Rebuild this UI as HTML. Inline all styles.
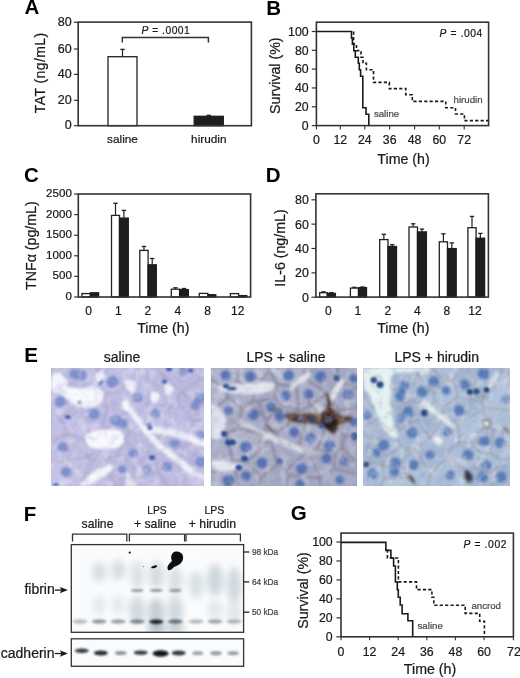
<!DOCTYPE html>
<html><head><meta charset="utf-8"><title>Figure</title>
<style>
html,body{margin:0;padding:0;background:#fff;}
body{width:520px;height:678px;overflow:hidden;}
svg{display:block;font-family:"Liberation Sans", sans-serif;will-change:transform;}
</style></head>
<body>
<svg width="520" height="678" viewBox="0 0 520 678">
<rect x="0" y="0" width="520" height="678" fill="#fff"/>
<text x="24.6" y="14.2" font-size="20.5" text-anchor="start" font-weight="bold" font-style="normal" fill="#000"  >A</text>
<line x1="73.9" y1="125.7" x2="78.2" y2="125.7" stroke="#333" stroke-width="1.2" />
<text x="71.6" y="129" font-size="12.5" text-anchor="end" font-weight="normal" font-style="normal" fill="#1a1a1a" stroke="#1a1a1a" stroke-width="0.22" >0</text>
<line x1="73.9" y1="100.3" x2="78.2" y2="100.3" stroke="#333" stroke-width="1.2" />
<text x="71.6" y="104.1" font-size="12.5" text-anchor="end" font-weight="normal" font-style="normal" fill="#1a1a1a" stroke="#1a1a1a" stroke-width="0.22" >20</text>
<line x1="73.9" y1="74.4" x2="78.2" y2="74.4" stroke="#333" stroke-width="1.2" />
<text x="71.6" y="77.8" font-size="12.5" text-anchor="end" font-weight="normal" font-style="normal" fill="#1a1a1a" stroke="#1a1a1a" stroke-width="0.22" >40</text>
<line x1="73.9" y1="49.0" x2="78.2" y2="49.0" stroke="#333" stroke-width="1.2" />
<text x="71.6" y="53" font-size="12.5" text-anchor="end" font-weight="normal" font-style="normal" fill="#1a1a1a" stroke="#1a1a1a" stroke-width="0.22" >60</text>
<line x1="73.9" y1="22.3" x2="78.2" y2="22.3" stroke="#333" stroke-width="1.2" />
<text x="71.6" y="25.5" font-size="12.5" text-anchor="end" font-weight="normal" font-style="normal" fill="#1a1a1a" stroke="#1a1a1a" stroke-width="0.22" >80</text>
<text x="0" y="0" font-size="14" text-anchor="middle" fill="#1a1a1a" stroke="#1a1a1a" stroke-width="0.22" textLength="80.4" lengthAdjust="spacing" transform="translate(45.0,73.0) rotate(-90)">TAT (ng/mL)</text>
<line x1="122.5" y1="56.7" x2="122.5" y2="49.4" stroke="#222" stroke-width="1.2" />
<line x1="120.3" y1="49.4" x2="124.7" y2="49.4" stroke="#222" stroke-width="1.3" />
<rect x="108" y="56.7" width="29" height="69.0" fill="#fff" stroke="#222" stroke-width="1.3" />
<line x1="208.75" y1="116.3" x2="208.75" y2="115.3" stroke="#222" stroke-width="1.2" />
<line x1="206.55" y1="115.3" x2="210.95" y2="115.3" stroke="#222" stroke-width="1.3" />
<rect x="194.2" y="116.3" width="29.100000000000023" height="9.400000000000006" fill="#1e1e1e" stroke="#1e1e1e" stroke-width="1.3" />
<rect x="78.2" y="22.1" width="173.2" height="103.6" fill="none" stroke="#333" stroke-width="1.6" />
<path d="M122.3,42.6 V37.4 H208.4 V42.6" fill="none" stroke="#333" stroke-width="1.5" />
<text x="141.6" y="34.2" font-size="10.3" text-anchor="start" font-weight="normal" font-style="normal" fill="#1a1a1a" stroke="#1a1a1a" stroke-width="0.22" textLength="48.2" lengthAdjust="spacing"><tspan font-style="italic">P</tspan> = .0001</text>
<text x="122.5" y="143" font-size="11.8" text-anchor="middle" font-weight="normal" font-style="normal" fill="#1a1a1a" stroke="#1a1a1a" stroke-width="0.22" >saline</text>
<text x="208.8" y="143" font-size="11.8" text-anchor="middle" font-weight="normal" font-style="normal" fill="#1a1a1a" stroke="#1a1a1a" stroke-width="0.22" >hirudin</text>
<text x="266.3" y="14.7" font-size="20.5" text-anchor="start" font-weight="bold" font-style="normal" fill="#000"  >B</text>
<line x1="311.79999999999995" y1="125.6" x2="316.4" y2="125.6" stroke="#333" stroke-width="1.2" />
<text x="308.6" y="129.8" font-size="12.3" text-anchor="end" font-weight="normal" font-style="normal" fill="#1a1a1a" stroke="#1a1a1a" stroke-width="0.22" >0</text>
<line x1="311.79999999999995" y1="106.78" x2="316.4" y2="106.78" stroke="#333" stroke-width="1.2" />
<text x="308.6" y="110.98" font-size="12.3" text-anchor="end" font-weight="normal" font-style="normal" fill="#1a1a1a" stroke="#1a1a1a" stroke-width="0.22" >20</text>
<line x1="311.79999999999995" y1="87.96" x2="316.4" y2="87.96" stroke="#333" stroke-width="1.2" />
<text x="308.6" y="92.16" font-size="12.3" text-anchor="end" font-weight="normal" font-style="normal" fill="#1a1a1a" stroke="#1a1a1a" stroke-width="0.22" >40</text>
<line x1="311.79999999999995" y1="69.14" x2="316.4" y2="69.14" stroke="#333" stroke-width="1.2" />
<text x="308.6" y="73.34" font-size="12.3" text-anchor="end" font-weight="normal" font-style="normal" fill="#1a1a1a" stroke="#1a1a1a" stroke-width="0.22" >60</text>
<line x1="311.79999999999995" y1="50.31999999999999" x2="316.4" y2="50.31999999999999" stroke="#333" stroke-width="1.2" />
<text x="308.6" y="54.52" font-size="12.3" text-anchor="end" font-weight="normal" font-style="normal" fill="#1a1a1a" stroke="#1a1a1a" stroke-width="0.22" >80</text>
<line x1="311.79999999999995" y1="31.5" x2="316.4" y2="31.5" stroke="#333" stroke-width="1.2" />
<text x="308.6" y="35.7" font-size="12.3" text-anchor="end" font-weight="normal" font-style="normal" fill="#1a1a1a" stroke="#1a1a1a" stroke-width="0.22" >100</text>
<text x="0" y="0" font-size="14.2" text-anchor="middle" fill="#1a1a1a" stroke="#1a1a1a" stroke-width="0.22"  transform="translate(280.2,75.7) rotate(-90)">Survival (%)</text>
<line x1="316.4" y1="125.6" x2="316.4" y2="129.4" stroke="#333" stroke-width="1.1" />
<text x="316.4" y="143.8" font-size="12.3" text-anchor="middle" font-weight="normal" font-style="normal" fill="#1a1a1a" stroke="#1a1a1a" stroke-width="0.22" >0</text>
<line x1="340.3" y1="125.6" x2="340.3" y2="129.4" stroke="#333" stroke-width="1.1" />
<text x="340.3" y="143.8" font-size="12.3" text-anchor="middle" font-weight="normal" font-style="normal" fill="#1a1a1a" stroke="#1a1a1a" stroke-width="0.22" >12</text>
<line x1="364.8" y1="125.6" x2="364.8" y2="129.4" stroke="#333" stroke-width="1.1" />
<text x="364.8" y="143.8" font-size="12.3" text-anchor="middle" font-weight="normal" font-style="normal" fill="#1a1a1a" stroke="#1a1a1a" stroke-width="0.22" >24</text>
<line x1="389.7" y1="125.6" x2="389.7" y2="129.4" stroke="#333" stroke-width="1.1" />
<text x="389.7" y="143.8" font-size="12.3" text-anchor="middle" font-weight="normal" font-style="normal" fill="#1a1a1a" stroke="#1a1a1a" stroke-width="0.22" >36</text>
<line x1="414.6" y1="125.6" x2="414.6" y2="129.4" stroke="#333" stroke-width="1.1" />
<text x="414.6" y="143.8" font-size="12.3" text-anchor="middle" font-weight="normal" font-style="normal" fill="#1a1a1a" stroke="#1a1a1a" stroke-width="0.22" >48</text>
<line x1="439.3" y1="125.6" x2="439.3" y2="129.4" stroke="#333" stroke-width="1.1" />
<text x="439.3" y="143.8" font-size="12.3" text-anchor="middle" font-weight="normal" font-style="normal" fill="#1a1a1a" stroke="#1a1a1a" stroke-width="0.22" >60</text>
<line x1="464.2" y1="125.6" x2="464.2" y2="129.4" stroke="#333" stroke-width="1.1" />
<text x="464.2" y="143.8" font-size="12.3" text-anchor="middle" font-weight="normal" font-style="normal" fill="#1a1a1a" stroke="#1a1a1a" stroke-width="0.22" >72</text>
<text x="403.5" y="163.5" font-size="14.2" text-anchor="middle" font-weight="normal" font-style="normal" fill="#1a1a1a" stroke="#1a1a1a" stroke-width="0.22" >Time (h)</text>
<rect x="316.4" y="22.2" width="172.20000000000005" height="103.39999999999999" fill="none" stroke="#333" stroke-width="1.6" />
<path d="M316.4,31.5 H351.5 V38.3 H352.4 V44.2 H353.8 V50.7 H355.3 V57.3 H358.3 V63.3 H359.3 V69.8 H360.6 V76.2 H362.8 V107.8 H366 V114.2 H368.8 V125.6" fill="none" stroke="#1a1a1a" stroke-width="1.6" />
<path d="M353.6,31.6 V44 H356.5 V50.6 H361 V57.3 H363 V63.3 H366.4 V69.8 H373.5 V82.4 H389.3 V88.6 H405.8 V94.8 H412.3 V101.4 H445.8 V107.8 H455.5 V114 H464.4 V120.6 H488" fill="none" stroke="#1a1a1a" stroke-width="1.6" stroke-dasharray="3.2,2.2"/>
<text x="439.6" y="37.2" font-size="10.3" text-anchor="start" font-weight="normal" font-style="normal" fill="#1a1a1a" stroke="#1a1a1a" stroke-width="0.22" textLength="42.6" lengthAdjust="spacing"><tspan font-style="italic">P</tspan> = .004</text>
<text x="453.5" y="102.8" font-size="9.7" text-anchor="start" font-weight="normal" font-style="normal" fill="#4a4a4a" stroke="#4a4a4a" stroke-width="0.22" >hirudin</text>
<text x="373.9" y="117.2" font-size="9.7" text-anchor="start" font-weight="normal" font-style="normal" fill="#4a4a4a" stroke="#4a4a4a" stroke-width="0.22" >saline</text>
<text x="24.0" y="182.2" font-size="20.5" text-anchor="start" font-weight="bold" font-style="normal" fill="#000"  >C</text>
<line x1="74.1" y1="297.0" x2="78.3" y2="297.0" stroke="#333" stroke-width="1.2" />
<text x="71.9" y="299.9" font-size="11.6" text-anchor="end" font-weight="normal" font-style="normal" fill="#1a1a1a" stroke="#1a1a1a" stroke-width="0.22" >0</text>
<line x1="74.1" y1="276.4" x2="78.3" y2="276.4" stroke="#333" stroke-width="1.2" />
<text x="71.9" y="279.3" font-size="11.6" text-anchor="end" font-weight="normal" font-style="normal" fill="#1a1a1a" stroke="#1a1a1a" stroke-width="0.22" >500</text>
<line x1="74.1" y1="255.8" x2="78.3" y2="255.8" stroke="#333" stroke-width="1.2" />
<text x="71.9" y="258.7" font-size="11.6" text-anchor="end" font-weight="normal" font-style="normal" fill="#1a1a1a" stroke="#1a1a1a" stroke-width="0.22" >1000</text>
<line x1="74.1" y1="235.2" x2="78.3" y2="235.2" stroke="#333" stroke-width="1.2" />
<text x="71.9" y="238.1" font-size="11.6" text-anchor="end" font-weight="normal" font-style="normal" fill="#1a1a1a" stroke="#1a1a1a" stroke-width="0.22" >1500</text>
<line x1="74.1" y1="214.6" x2="78.3" y2="214.6" stroke="#333" stroke-width="1.2" />
<text x="71.9" y="217.5" font-size="11.6" text-anchor="end" font-weight="normal" font-style="normal" fill="#1a1a1a" stroke="#1a1a1a" stroke-width="0.22" >2000</text>
<line x1="74.1" y1="194.0" x2="78.3" y2="194.0" stroke="#333" stroke-width="1.2" />
<text x="71.9" y="196.9" font-size="11.6" text-anchor="end" font-weight="normal" font-style="normal" fill="#1a1a1a" stroke="#1a1a1a" stroke-width="0.22" >2500</text>
<text x="0" y="0" font-size="14.2" text-anchor="middle" fill="#1a1a1a" stroke="#1a1a1a" stroke-width="0.22"  transform="translate(35.8,245.6) rotate(-90)">TNF&#945; (pg/mL)</text>
<rect x="81.9" y="293.6" width="8.5" height="3.3999999999999773" fill="#fff" stroke="#222" stroke-width="1.3" />
<rect x="90.4" y="292.8" width="8.199999999999989" height="4.199999999999989" fill="#1e1e1e" stroke="#1e1e1e" stroke-width="1.3" />
<line x1="115.5" y1="215.4" x2="115.5" y2="203.3" stroke="#222" stroke-width="1.2" />
<line x1="113.3" y1="203.3" x2="117.7" y2="203.3" stroke="#222" stroke-width="1.3" />
<rect x="111.5" y="215.4" width="8.0" height="81.6" fill="#fff" stroke="#222" stroke-width="1.3" />
<line x1="123.9" y1="218.1" x2="123.9" y2="210.4" stroke="#222" stroke-width="1.2" />
<line x1="121.7" y1="210.4" x2="126.10000000000001" y2="210.4" stroke="#222" stroke-width="1.3" />
<rect x="119.5" y="218.1" width="8.800000000000011" height="78.9" fill="#1e1e1e" stroke="#1e1e1e" stroke-width="1.3" />
<line x1="143.95" y1="250.4" x2="143.95" y2="246.5" stroke="#222" stroke-width="1.2" />
<line x1="141.75" y1="246.5" x2="146.14999999999998" y2="246.5" stroke="#222" stroke-width="1.3" />
<rect x="139.8" y="250.4" width="8.299999999999983" height="46.599999999999994" fill="#fff" stroke="#222" stroke-width="1.3" />
<line x1="152.2" y1="264.8" x2="152.2" y2="258.5" stroke="#222" stroke-width="1.2" />
<line x1="150.0" y1="258.5" x2="154.39999999999998" y2="258.5" stroke="#222" stroke-width="1.3" />
<rect x="148.1" y="264.8" width="8.200000000000017" height="32.19999999999999" fill="#1e1e1e" stroke="#1e1e1e" stroke-width="1.3" />
<line x1="175.45" y1="289.2" x2="175.45" y2="287.8" stroke="#222" stroke-width="1.2" />
<line x1="173.25" y1="287.8" x2="177.64999999999998" y2="287.8" stroke="#222" stroke-width="1.3" />
<rect x="171.3" y="289.2" width="8.299999999999983" height="7.800000000000011" fill="#fff" stroke="#222" stroke-width="1.3" />
<line x1="183.95" y1="289.6" x2="183.95" y2="288.5" stroke="#222" stroke-width="1.2" />
<line x1="181.75" y1="288.5" x2="186.14999999999998" y2="288.5" stroke="#222" stroke-width="1.3" />
<rect x="179.6" y="289.6" width="8.700000000000017" height="7.399999999999977" fill="#1e1e1e" stroke="#1e1e1e" stroke-width="1.3" />
<rect x="199.3" y="293.4" width="8.599999999999994" height="3.6000000000000227" fill="#fff" stroke="#222" stroke-width="1.3" />
<rect x="207.9" y="294.7" width="7.900000000000006" height="2.3000000000000114" fill="#1e1e1e" stroke="#1e1e1e" stroke-width="1.3" />
<rect x="230.4" y="293.6" width="8.199999999999989" height="3.3999999999999773" fill="#fff" stroke="#222" stroke-width="1.3" />
<rect x="238.6" y="295.6" width="8.200000000000017" height="1.3999999999999773" fill="#1e1e1e" stroke="#1e1e1e" stroke-width="1.3" />
<rect x="78.3" y="194.0" width="172.3" height="103.0" fill="none" stroke="#333" stroke-width="1.6" />
<text x="88.6" y="314.6" font-size="12" text-anchor="middle" font-weight="normal" font-style="normal" fill="#1a1a1a" stroke="#1a1a1a" stroke-width="0.22" >0</text>
<text x="118.4" y="314.6" font-size="12" text-anchor="middle" font-weight="normal" font-style="normal" fill="#1a1a1a" stroke="#1a1a1a" stroke-width="0.22" >1</text>
<text x="147.9" y="314.6" font-size="12" text-anchor="middle" font-weight="normal" font-style="normal" fill="#1a1a1a" stroke="#1a1a1a" stroke-width="0.22" >2</text>
<text x="177.8" y="314.6" font-size="12" text-anchor="middle" font-weight="normal" font-style="normal" fill="#1a1a1a" stroke="#1a1a1a" stroke-width="0.22" >4</text>
<text x="207.6" y="314.6" font-size="12" text-anchor="middle" font-weight="normal" font-style="normal" fill="#1a1a1a" stroke="#1a1a1a" stroke-width="0.22" >8</text>
<text x="237.7" y="314.6" font-size="12" text-anchor="middle" font-weight="normal" font-style="normal" fill="#1a1a1a" stroke="#1a1a1a" stroke-width="0.22" >12</text>
<text x="163.3" y="332.5" font-size="14.2" text-anchor="middle" font-weight="normal" font-style="normal" fill="#1a1a1a" stroke="#1a1a1a" stroke-width="0.22" >Time (h)</text>
<text x="265.8" y="181.8" font-size="20.5" text-anchor="start" font-weight="bold" font-style="normal" fill="#000"  >D</text>
<line x1="311.5" y1="297.2" x2="315.9" y2="297.2" stroke="#333" stroke-width="1.2" />
<text x="308.8" y="301.6" font-size="12.4" text-anchor="end" font-weight="normal" font-style="normal" fill="#1a1a1a" stroke="#1a1a1a" stroke-width="0.22" >0</text>
<line x1="311.5" y1="272.84999999999997" x2="315.9" y2="272.84999999999997" stroke="#333" stroke-width="1.2" />
<text x="308.8" y="277.25" font-size="12.4" text-anchor="end" font-weight="normal" font-style="normal" fill="#1a1a1a" stroke="#1a1a1a" stroke-width="0.22" >20</text>
<line x1="311.5" y1="248.5" x2="315.9" y2="248.5" stroke="#333" stroke-width="1.2" />
<text x="308.8" y="252.9" font-size="12.4" text-anchor="end" font-weight="normal" font-style="normal" fill="#1a1a1a" stroke="#1a1a1a" stroke-width="0.22" >40</text>
<line x1="311.5" y1="224.14999999999998" x2="315.9" y2="224.14999999999998" stroke="#333" stroke-width="1.2" />
<text x="308.8" y="228.55" font-size="12.4" text-anchor="end" font-weight="normal" font-style="normal" fill="#1a1a1a" stroke="#1a1a1a" stroke-width="0.22" >60</text>
<line x1="311.5" y1="199.79999999999998" x2="315.9" y2="199.79999999999998" stroke="#333" stroke-width="1.2" />
<text x="308.8" y="204.2" font-size="12.4" text-anchor="end" font-weight="normal" font-style="normal" fill="#1a1a1a" stroke="#1a1a1a" stroke-width="0.22" >80</text>
<text x="0" y="0" font-size="14.2" text-anchor="middle" fill="#1a1a1a" stroke="#1a1a1a" stroke-width="0.22"  transform="translate(284.6,248) rotate(-90)">IL-6 (ng/mL)</text>
<line x1="323.5" y1="292.7" x2="323.5" y2="291.8" stroke="#222" stroke-width="1.2" />
<line x1="321.3" y1="291.8" x2="325.7" y2="291.8" stroke="#222" stroke-width="1.3" />
<rect x="319.7" y="292.7" width="7.600000000000023" height="4.400000000000034" fill="#fff" stroke="#222" stroke-width="1.3" />
<line x1="331.35" y1="293.4" x2="331.35" y2="292.6" stroke="#222" stroke-width="1.2" />
<line x1="329.15000000000003" y1="292.6" x2="333.55" y2="292.6" stroke="#222" stroke-width="1.3" />
<rect x="327.3" y="293.4" width="8.099999999999966" height="3.7000000000000455" fill="#1e1e1e" stroke="#1e1e1e" stroke-width="1.3" />
<line x1="354.45" y1="288.1" x2="354.45" y2="287.3" stroke="#222" stroke-width="1.2" />
<line x1="352.25" y1="287.3" x2="356.65" y2="287.3" stroke="#222" stroke-width="1.3" />
<rect x="350.4" y="288.1" width="8.100000000000023" height="9.0" fill="#fff" stroke="#222" stroke-width="1.3" />
<line x1="362.5" y1="287.6" x2="362.5" y2="287.0" stroke="#222" stroke-width="1.2" />
<line x1="360.3" y1="287.0" x2="364.7" y2="287.0" stroke="#222" stroke-width="1.3" />
<rect x="358.5" y="287.6" width="8.0" height="9.5" fill="#1e1e1e" stroke="#1e1e1e" stroke-width="1.3" />
<line x1="383.85" y1="239.6" x2="383.85" y2="234.3" stroke="#222" stroke-width="1.2" />
<line x1="381.65000000000003" y1="234.3" x2="386.05" y2="234.3" stroke="#222" stroke-width="1.3" />
<rect x="379.7" y="239.6" width="8.300000000000011" height="57.50000000000003" fill="#fff" stroke="#222" stroke-width="1.3" />
<line x1="392.25" y1="246.5" x2="392.25" y2="244.7" stroke="#222" stroke-width="1.2" />
<line x1="390.05" y1="244.7" x2="394.45" y2="244.7" stroke="#222" stroke-width="1.3" />
<rect x="388.0" y="246.5" width="8.5" height="50.60000000000002" fill="#1e1e1e" stroke="#1e1e1e" stroke-width="1.3" />
<line x1="413.25" y1="227.0" x2="413.25" y2="223.8" stroke="#222" stroke-width="1.2" />
<line x1="411.05" y1="223.8" x2="415.45" y2="223.8" stroke="#222" stroke-width="1.3" />
<rect x="409.0" y="227.0" width="8.5" height="70.10000000000002" fill="#fff" stroke="#222" stroke-width="1.3" />
<line x1="421.95" y1="231.9" x2="421.95" y2="229.1" stroke="#222" stroke-width="1.2" />
<line x1="419.75" y1="229.1" x2="424.15" y2="229.1" stroke="#222" stroke-width="1.3" />
<rect x="417.5" y="231.9" width="8.899999999999977" height="65.20000000000002" fill="#1e1e1e" stroke="#1e1e1e" stroke-width="1.3" />
<line x1="443.4" y1="241.8" x2="443.4" y2="233.8" stroke="#222" stroke-width="1.2" />
<line x1="441.2" y1="233.8" x2="445.59999999999997" y2="233.8" stroke="#222" stroke-width="1.3" />
<rect x="439.3" y="241.8" width="8.199999999999989" height="55.30000000000001" fill="#fff" stroke="#222" stroke-width="1.3" />
<line x1="451.85" y1="248.6" x2="451.85" y2="242.9" stroke="#222" stroke-width="1.2" />
<line x1="449.65000000000003" y1="242.9" x2="454.05" y2="242.9" stroke="#222" stroke-width="1.3" />
<rect x="447.5" y="248.6" width="8.699999999999989" height="48.50000000000003" fill="#1e1e1e" stroke="#1e1e1e" stroke-width="1.3" />
<line x1="472.0" y1="227.7" x2="472.0" y2="216.4" stroke="#222" stroke-width="1.2" />
<line x1="469.8" y1="216.4" x2="474.2" y2="216.4" stroke="#222" stroke-width="1.3" />
<rect x="467.9" y="227.7" width="8.200000000000045" height="69.40000000000003" fill="#fff" stroke="#222" stroke-width="1.3" />
<line x1="480.35" y1="238.2" x2="480.35" y2="233.4" stroke="#222" stroke-width="1.2" />
<line x1="478.15000000000003" y1="233.4" x2="482.55" y2="233.4" stroke="#222" stroke-width="1.3" />
<rect x="476.1" y="238.2" width="8.5" height="58.900000000000034" fill="#1e1e1e" stroke="#1e1e1e" stroke-width="1.3" />
<rect x="315.9" y="193.8" width="172.5" height="103.30000000000001" fill="none" stroke="#333" stroke-width="1.6" />
<text x="328.3" y="315.2" font-size="12" text-anchor="middle" font-weight="normal" font-style="normal" fill="#1a1a1a" stroke="#1a1a1a" stroke-width="0.22" >0</text>
<text x="357.8" y="315.2" font-size="12" text-anchor="middle" font-weight="normal" font-style="normal" fill="#1a1a1a" stroke="#1a1a1a" stroke-width="0.22" >1</text>
<text x="387.8" y="315.2" font-size="12" text-anchor="middle" font-weight="normal" font-style="normal" fill="#1a1a1a" stroke="#1a1a1a" stroke-width="0.22" >2</text>
<text x="417.4" y="315.2" font-size="12" text-anchor="middle" font-weight="normal" font-style="normal" fill="#1a1a1a" stroke="#1a1a1a" stroke-width="0.22" >4</text>
<text x="446.9" y="315.2" font-size="12" text-anchor="middle" font-weight="normal" font-style="normal" fill="#1a1a1a" stroke="#1a1a1a" stroke-width="0.22" >8</text>
<text x="475.0" y="315.2" font-size="12" text-anchor="middle" font-weight="normal" font-style="normal" fill="#1a1a1a" stroke="#1a1a1a" stroke-width="0.22" >12</text>
<text x="403.3" y="332.6" font-size="14.2" text-anchor="middle" font-weight="normal" font-style="normal" fill="#1a1a1a" stroke="#1a1a1a" stroke-width="0.22" >Time (h)</text>
<text x="24.3" y="361.9" font-size="20.5" text-anchor="start" font-weight="bold" font-style="normal" fill="#000"  >E</text>
<text x="122" y="361.8" font-size="14" text-anchor="middle" font-weight="normal" font-style="normal" fill="#1a1a1a" stroke="#1a1a1a" stroke-width="0.22" >saline</text>
<text x="286" y="361.8" font-size="14" text-anchor="middle" font-weight="normal" font-style="normal" fill="#1a1a1a" stroke="#1a1a1a" stroke-width="0.22" >LPS + saline</text>
<text x="436.7" y="361.8" font-size="14" text-anchor="middle" font-weight="normal" font-style="normal" fill="#1a1a1a" stroke="#1a1a1a" stroke-width="0.22" >LPS + hirudin</text>
<defs>
<filter id="bl1" x="-5%" y="-5%" width="110%" height="110%"><feGaussianBlur stdDeviation="1.5"/></filter>
<filter id="bl2" x="-20%" y="-20%" width="140%" height="140%"><feGaussianBlur stdDeviation="0.8"/></filter>
<filter id="bl3" x="-5%" y="-5%" width="110%" height="110%"><feGaussianBlur stdDeviation="3"/></filter>
<filter id="noise" x="0" y="0" width="100%" height="100%">
 <feTurbulence type="fractalNoise" baseFrequency="0.09" numOctaves="3" seed="3"/>
 <feColorMatrix type="matrix" values="0 0 0 0 1  0 0 0 0 1  0 0 0 0 1  2.2 0 0 0 -1.0" />
</filter>
<filter id="noised" x="0" y="0" width="100%" height="100%">
 <feTurbulence type="fractalNoise" baseFrequency="0.12" numOctaves="3" seed="11"/>
 <feColorMatrix type="matrix" values="0 0 0 0 0.25  0 0 0 0 0.25  0 0 0 0 0.4  2.2 0 0 0 -1.05" />
</filter>
<radialGradient id="n1"><stop offset="0" stop-color="#5d77bf"/><stop offset="0.35" stop-color="#8598d2"/><stop offset="0.7" stop-color="#647ec3"/><stop offset="0.85" stop-color="#6680c4"/><stop offset="1" stop-color="#8a9cd2" stop-opacity="0.3"/></radialGradient>
<radialGradient id="n2"><stop offset="0" stop-color="#30529d"/><stop offset="0.35" stop-color="#5777b8"/><stop offset="0.7" stop-color="#4264ab"/><stop offset="0.85" stop-color="#4466ad"/><stop offset="1" stop-color="#7088bc" stop-opacity="0.3"/></radialGradient>
<radialGradient id="n3"><stop offset="0" stop-color="#305aa2"/><stop offset="0.35" stop-color="#5d85bf"/><stop offset="0.7" stop-color="#436cae"/><stop offset="0.85" stop-color="#466fb0"/><stop offset="1" stop-color="#7694c2" stop-opacity="0.3"/></radialGradient>
<clipPath id="c1"><rect x="51" y="368" width="153.1" height="118"/></clipPath>
<clipPath id="c2"><rect x="210.8" y="368" width="146.3" height="118"/></clipPath>
<clipPath id="c3"><rect x="363.2" y="368" width="146.6" height="118"/></clipPath>
</defs>
<g clip-path="url(#c1)">
<rect x="51" y="368" width="153.1" height="118" fill="#adabd2"/>
<g filter="url(#bl1)">
<path d="M73.3,389.9 L74.4,389.0 L77.6,367.0 L50.0,367.0 L50.0,378.3 L73.3,389.9 Z" fill="#bcbadf"/>
<path d="M98.2,367.0 L79.6,367.0 L76.6,387.9 L95.5,379.4 L98.2,367.0 Z" fill="#c5c3e5"/>
<path d="M59.8,415.9 L75.2,403.4 L72.6,391.7 L50.0,380.5 L50.0,413.1 L59.8,415.9 Z" fill="#c4c2e5"/>
<path d="M101.1,426.4 L106.4,408.0 L103.7,403.1 L82.6,407.5 L90.6,432.9 L101.1,426.4 Z" fill="#bebce0"/>
<path d="M122.3,412.1 L108.2,409.1 L103.2,426.4 L115.2,429.8 L122.3,412.1 Z" fill="#c0bee2"/>
<path d="M137.1,415.3 L130.2,411.5 L124.4,412.3 L117.0,430.7 L124.9,437.0 L139.3,422.6 L137.1,415.3 Z" fill="#c0bee2"/>
<path d="M97.4,379.9 L105.8,394.1 L126.3,385.7 L138.0,367.0 L100.2,367.0 L97.4,379.9 Z" fill="#c2c0e4"/>
<path d="M128.0,386.7 L131.3,409.8 L137.7,413.3 L148.4,401.8 L144.5,367.0 L140.4,367.0 L128.0,386.7 Z" fill="#c4c2e5"/>
<path d="M182.5,391.9 L205.1,405.5 L205.1,377.3 L182.5,391.9 Z" fill="#bcbadf"/>
<path d="M180.8,393.2 L178.2,401.6 L195.4,420.0 L205.1,418.1 L205.1,407.8 L180.8,393.2 Z" fill="#bbb9df"/>
<path d="M158.6,432.0 L163.4,428.9 L168.6,408.4 L149.7,403.3 L139.1,414.8 L141.3,422.2 L158.6,432.0 Z" fill="#c5c3e5"/>
<path d="M67.0,434.0 L50.0,444.6 L50.0,460.5 L87.4,455.9 L85.2,441.9 L67.0,434.0 Z" fill="#c0bee2"/>
<path d="M50.0,462.5 L50.0,487.0 L78.7,487.0 L89.2,459.4 L88.1,457.9 L50.0,462.5 Z" fill="#c4c2e5"/>
<path d="M159.6,433.8 L157.6,449.7 L172.8,455.3 L187.3,441.4 L184.9,434.8 L164.5,430.6 L159.6,433.8 Z" fill="#bbb9de"/>
<path d="M118.4,454.0 L134.4,465.2 L147.7,453.7 L125.4,442.3 L118.4,454.0 Z" fill="#c0bee2"/>
<path d="M150.0,454.4 L135.4,466.9 L135.3,478.0 L156.3,471.4 L153.6,453.6 L150.0,454.4 Z" fill="#c3c1e4"/>
<path d="M184.3,475.7 L172.3,457.2 L156.7,451.5 L155.5,452.7 L158.3,471.7 L170.4,487.0 L185.9,487.0 L184.3,475.7 Z" fill="#bdbbe0"/>
<path d="M189.3,441.0 L197.6,447.5 L205.1,447.5 L205.1,420.1 L195.6,421.9 L186.8,434.1 L189.3,441.0 Z" fill="#c6c4e6"/>
<path d="M197.9,449.5 L186.3,475.5 L187.9,487.0 L205.1,487.0 L205.1,449.5 L197.9,449.5 Z" fill="#c5c3e6"/>
<path d="M180.4,390.9 L205.1,375.0 L205.1,367.0 L156.4,367.0 L180.4,390.9 Z" fill="#bbb9df"/>
<path d="M133.3,479.1 L133.4,466.9 L116.9,455.5 L101.3,461.8 L119.1,487.0 L130.3,487.0 L133.3,479.1 Z" fill="#bbb9df"/>
<path d="M59.3,417.9 L50.0,415.2 L50.0,442.3 L65.6,432.4 L59.3,417.9 Z" fill="#c1bfe3"/>
<path d="M96.0,381.4 L75.9,390.4 L74.5,391.4 L77.2,403.2 L81.4,405.7 L103.4,401.1 L104.3,395.6 L96.0,381.4 Z" fill="#c6c4e6"/>
<path d="M124.0,438.9 L115.3,431.9 L102.1,428.1 L90.7,435.1 L87.1,441.4 L89.5,456.4 L90.9,458.4 L99.7,460.3 L116.4,453.5 L124.0,440.7 L124.0,438.9 Z" fill="#bfbde2"/>
<path d="M150.3,401.4 L169.6,406.5 L176.2,401.2 L179.0,392.4 L153.6,367.0 L146.5,367.0 L150.3,401.4 Z" fill="#bdbbe0"/>
<path d="M185.2,432.8 L193.7,421.1 L177.0,403.2 L170.7,408.2 L165.5,428.8 L185.2,432.8 Z" fill="#c0bee2"/>
<path d="M196.1,448.8 L188.6,443.0 L174.3,456.6 L185.1,473.2 L196.1,448.8 Z" fill="#bbb9df"/>
<path d="M126.0,438.8 L126.0,440.4 L149.7,452.4 L153.9,451.5 L155.5,449.9 L157.6,433.8 L140.6,424.1 L126.0,438.8 Z" fill="#bdbbe0"/>
<path d="M88.9,434.3 L80.4,407.4 L76.4,405.0 L61.3,417.3 L67.7,432.1 L85.7,439.9 L88.9,434.3 Z" fill="#c0bee2"/>
<path d="M126.2,387.9 L106.2,396.1 L105.3,401.7 L108.2,407.0 L123.7,410.4 L129.3,409.6 L126.2,387.9 Z" fill="#c0bee2"/>
<path d="M157.0,473.2 L135.0,480.1 L132.5,487.0 L167.8,487.0 L157.0,473.2 Z" fill="#bdbbe0"/>
<path d="M80.8,487.0 L116.6,487.0 L99.2,462.2 L91.0,460.4 L80.8,487.0 Z" fill="#bdbbe0"/>
<path d="M51,375 L59,372 L65,378 L68,387 L80,388.5 L95,387 L104,391.5 L102.5,402 L95,406.5 L83,408 L74,405 L68,399 L59,393 L51,391.5 Z" fill="#eef0fa" opacity="0.95" />
<path d="M66,388.5 C72,387 78,388.5 84,389.5 C90,389 96,387.5 100,389.5 C103,392 103,398 100,402 C96,406 88,407 82,406 C76,404.5 71,401 68,397 C66,394 65,391 66,388.5 Z" fill="#f7f8fd" opacity="1" />
<path d="M51,377 C53,373 57,372 60,374 C62,378 61,384 58,388 C55,389 52,388 51,386 Z" fill="#f2f3fb" opacity="0.9" />
<path d="M95.6,372.6 L103.3,371 L104.8,377.2 L101.8,383.4 L97.2,383.4 L94.8,378.8 Z" fill="#eceefa" opacity="0.95" />
<path d="M122,401 C124,400 127,400 128.5,401.5 C130,404 130,408 128.5,411 C126,411.5 123.5,411 122.5,409.5 C121.5,407 121.5,403.5 122,401 Z" fill="#f6f7fd" opacity="1" />
<path d="M125,380.5 C128,379 133,380 136,383 C137,387 136,391 133,392.5 C129,392.5 126.5,390 125.5,387 Z" fill="#f0f1fb" opacity="0.95" />
<path d="M150.5,392.5 C154,391 158,392 159.5,396 C159.5,400 157,403.5 153.5,403.5 C151,402 150,397 150.5,392.5 Z" fill="#f4f5fc" opacity="1" />
<path d="M164,385 C167,383.5 171,384 173,387 C173,391 170,395 167,395.5 C165,394 163.5,389 164,385 Z" fill="#eef0fa" opacity="0.95" />
<path d="M86,435 C90,432 94,430.5 98,430.3 C104,429.6 110,429.4 116,429.6 C120,431 123.5,433.5 123.8,437.5 C123.5,442 122.5,445 119,447 C114,448.6 110,448.7 104,448.7 C98,448.7 94,448.6 90,447 C87,445.5 85.5,442 85.5,439 C85.5,437.5 85.7,436 86,435 Z" fill="#f7f8fd" opacity="1" />
<path d="M79,486 C83,480 88,476 95,471 C100,467.5 106,465 111,464.5 C113.5,465.5 113,468.5 110.5,471 C106,475 100,479 94,482.5 C90,485 86,486 79,486 Z" fill="#f4f5fc" opacity="1" />
<path d="M126,472 C130,474 134,479 135,486 L126,486 Z" fill="#eceefa" opacity="0.9" />
<path d="M131,411 C136,418 141,424 146,430.5 C150,436 154,440 158,444 C164,450 170,455 176,459 C182,463 187,467 191,471" fill="none" stroke="#f0f2fb" stroke-width="6" stroke-linecap="round" stroke-linejoin="round" opacity="0.95"/>
<path d="M148,429 C155,430 162,431 170,432 C180,434 192,439 206,444" fill="none" stroke="#eef0fa" stroke-width="7" stroke-linecap="round" stroke-linejoin="round" opacity="0.92"/>
<path d="M191,471 C196,474 200,476 206,478" fill="none" stroke="#eceefa" stroke-width="5" stroke-linecap="round" stroke-linejoin="round" opacity="0.8"/>
<circle cx="74" cy="374" r="5" fill="url(#n1)" opacity="0.9"/>
<circle cx="81" cy="375" r="6" fill="url(#n1)" opacity="0.9"/>
<circle cx="60.2" cy="401.8" r="6" fill="url(#n1)" opacity="0.9"/>
<circle cx="94" cy="414" r="6" fill="url(#n1)" opacity="0.9"/>
<circle cx="115.6" cy="420.3" r="6" fill="url(#n1)" opacity="0.9"/>
<circle cx="123.3" cy="423.4" r="5" fill="url(#n1)" opacity="0.9"/>
<circle cx="112.5" cy="381.8" r="6.5" fill="url(#n1)" opacity="0.9"/>
<circle cx="137.5" cy="397.5" r="5.5" fill="url(#n1)" opacity="0.9"/>
<circle cx="199.8" cy="398" r="6" fill="url(#n1)" opacity="0.9"/>
<circle cx="195" cy="406" r="5" fill="url(#n1)" opacity="0.9"/>
<circle cx="155" cy="413.7" r="5.5" fill="url(#n1)" opacity="0.9"/>
<circle cx="63" cy="447.5" r="5.5" fill="url(#n1)" opacity="0.9"/>
<circle cx="66" cy="472" r="5.5" fill="url(#n1)" opacity="0.9"/>
<circle cx="175" cy="444.5" r="5.5" fill="url(#n1)" opacity="0.9"/>
<circle cx="133" cy="453.7" r="5.2" fill="url(#n1)" opacity="0.9"/>
<circle cx="146.8" cy="469.8" r="5" fill="url(#n1)" opacity="0.9"/>
<circle cx="166.8" cy="466.8" r="5.5" fill="url(#n1)" opacity="0.9"/>
<circle cx="200.6" cy="435" r="4.5" fill="url(#n1)" opacity="0.9"/>
<circle cx="200.6" cy="462" r="6" fill="url(#n1)" opacity="0.9"/>
<circle cx="183" cy="372" r="5" fill="url(#n1)" opacity="0.9"/>
<circle cx="122" cy="469.5" r="4.5" fill="url(#n1)" opacity="0.9"/>
</g>
<g filter="url(#bl2)">
<ellipse cx="101" cy="382.6" rx="3.2" ry="1.3" fill="#3a57a8" opacity="1" transform="rotate(-40 101 382.6)"/>
<ellipse cx="68" cy="417.2" rx="3" ry="2" fill="#3a57a8" opacity="1" transform="rotate(25 68 417.2)"/>
<ellipse cx="79.5" cy="402.6" rx="1.3" ry="1.5" fill="#3a57a8" opacity="1" transform="rotate(0 79.5 402.6)"/>
<ellipse cx="169" cy="369" rx="3" ry="2" fill="#3a57a8" opacity="1" transform="rotate(0 169 369)"/>
<ellipse cx="190.6" cy="370.6" rx="2.6" ry="2.2" fill="#3a57a8" opacity="1" transform="rotate(0 190.6 370.6)"/>
<ellipse cx="164.5" cy="381.4" rx="2.6" ry="2" fill="#3a57a8" opacity="1" transform="rotate(0 164.5 381.4)"/>
<ellipse cx="149" cy="425" rx="2.6" ry="2" fill="#3a57a8" opacity="1" transform="rotate(0 149 425)"/>
<ellipse cx="149.8" cy="427.5" rx="2.5" ry="2.5" fill="#3a57a8" opacity="1" transform="rotate(0 149.8 427.5)"/>
<ellipse cx="152" cy="457.5" rx="2.8" ry="2.5" fill="#3a57a8" opacity="1" transform="rotate(0 152 457.5)"/>
<ellipse cx="56" cy="484.5" rx="3" ry="1.6" fill="#3a57a8" opacity="1" transform="rotate(0 56 484.5)"/>
</g>
<rect x="51" y="368" width="153.1" height="118" filter="url(#noise)" opacity="0.4"/>
<rect x="51" y="368" width="153.1" height="118" filter="url(#noised)" opacity="0.25"/>
</g>
<g clip-path="url(#c2)">
<rect x="210.8" y="368" width="146.3" height="118" fill="#84839c"/>
<g filter="url(#bl1)">
<path d="M267.5,367.6 L240.1,367.6 L239.3,380.6 L251.6,387.7 L267.6,370.1 L267.5,367.6 Z" fill="#b1b5cd" stroke="#c8ccdc" stroke-width="1.2" stroke-opacity="0.4"/>
<path d="M296.1,385.1 L302.8,377.9 L303.3,367.6 L270.7,367.6 L270.8,370.2 L278.6,382.7 L296.1,385.1 Z" fill="#b1b5cd" stroke="#c8ccdc" stroke-width="1.2" stroke-opacity="0.4"/>
<path d="M335.5,380.8 L336.1,367.6 L306.5,367.6 L306.0,377.7 L327.4,391.9 L328.6,391.9 L335.5,380.8 Z" fill="#a2a6c3" stroke="#c8ccdc" stroke-width="1.2" stroke-opacity="0.4"/>
<path d="M338.8,380.2 L357.5,386.7 L357.5,367.6 L339.3,367.6 L338.8,380.2 Z" fill="#a3a7c3" stroke="#c8ccdc" stroke-width="1.2" stroke-opacity="0.4"/>
<path d="M227.4,387.1 L236.1,380.7 L236.9,367.6 L210.4,367.6 L210.4,378.1 L227.4,387.1 Z" fill="#afb3cb" stroke="#c8ccdc" stroke-width="1.2" stroke-opacity="0.4"/>
<path d="M276.0,396.2 L282.4,404.2 L296.5,408.3 L295.2,388.2 L278.8,385.9 L276.0,396.2 Z" fill="#adb1ca" stroke="#c8ccdc" stroke-width="1.2" stroke-opacity="0.4"/>
<path d="M300.0,410.2 L324.1,393.5 L304.6,380.6 L298.4,387.4 L299.8,409.9 L300.0,410.2 Z" fill="#acb0c9" stroke="#c8ccdc" stroke-width="1.2" stroke-opacity="0.4"/>
<path d="M337.8,383.2 L331.3,393.6 L339.7,408.8 L357.5,405.2 L357.5,390.1 L337.8,383.2 Z" fill="#a6aac5" stroke="#c8ccdc" stroke-width="1.2" stroke-opacity="0.4"/>
<path d="M260.5,402.9 L266.7,418.0 L279.3,405.5 L273.7,398.5 L260.5,402.9 Z" fill="#abafc9" stroke="#c8ccdc" stroke-width="1.2" stroke-opacity="0.4"/>
<path d="M254.1,401.7 L243.1,409.2 L240.0,427.0 L263.9,432.4 L264.5,421.1 L257.1,403.1 L254.1,401.7 Z" fill="#abafc9" stroke="#c8ccdc" stroke-width="1.2" stroke-opacity="0.4"/>
<path d="M225.9,432.2 L236.7,427.1 L239.9,408.9 L227.6,399.6 L210.4,414.8 L210.4,427.6 L225.9,432.2 Z" fill="#abafc8" stroke="#c8ccdc" stroke-width="1.2" stroke-opacity="0.4"/>
<path d="M267.7,421.5 L267.0,433.8 L270.3,437.4 L297.6,412.3 L297.3,411.9 L281.9,407.4 L267.7,421.5 Z" fill="#a4a8c4" stroke="#c8ccdc" stroke-width="1.2" stroke-opacity="0.4"/>
<path d="M344.8,434.7 L357.5,434.3 L357.5,408.5 L340.1,412.0 L335.5,424.9 L344.8,434.7 Z" fill="#a8acc7" stroke="#c8ccdc" stroke-width="1.2" stroke-opacity="0.4"/>
<path d="M273.7,438.5 L297.7,443.0 L305.6,421.7 L299.6,414.8 L273.7,438.5 Z" fill="#a8acc6" stroke="#c8ccdc" stroke-width="1.2" stroke-opacity="0.4"/>
<path d="M300.5,444.5 L306.8,452.0 L309.9,452.9 L315.5,448.6 L323.2,428.5 L308.3,423.4 L300.5,444.5 Z" fill="#adb1ca" stroke="#c8ccdc" stroke-width="1.2" stroke-opacity="0.4"/>
<path d="M319.0,448.4 L335.8,452.1 L340.5,447.8 L342.5,436.9 L333.2,427.1 L326.5,428.9 L319.0,448.4 Z" fill="#b1b5cd" stroke="#c8ccdc" stroke-width="1.2" stroke-opacity="0.4"/>
<path d="M238.3,429.9 L227.9,434.8 L234.5,459.8 L246.8,459.8 L267.6,439.2 L264.5,435.8 L238.3,429.9 Z" fill="#b1b5cd" stroke="#c8ccdc" stroke-width="1.2" stroke-opacity="0.4"/>
<path d="M249.6,461.6 L260.8,475.4 L275.7,463.9 L269.4,441.9 L249.6,461.6 Z" fill="#aaaec8" stroke="#c8ccdc" stroke-width="1.2" stroke-opacity="0.4"/>
<path d="M235.0,463.1 L241.0,486.4 L257.7,486.4 L258.9,478.0 L246.7,463.1 L235.0,463.1 Z" fill="#a9adc7" stroke="#c8ccdc" stroke-width="1.2" stroke-opacity="0.4"/>
<path d="M317.6,476.6 L309.1,456.0 L306.3,455.2 L288.3,470.3 L289.7,473.6 L317.6,476.6 Z" fill="#a6aac5" stroke="#c8ccdc" stroke-width="1.2" stroke-opacity="0.4"/>
<path d="M320.6,475.4 L332.3,468.0 L334.4,455.1 L317.2,451.3 L312.2,455.2 L320.6,475.4 Z" fill="#a2a6c2" stroke="#c8ccdc" stroke-width="1.2" stroke-opacity="0.4"/>
<path d="M335.6,467.7 L357.5,472.5 L357.5,465.6 L342.0,450.8 L337.7,454.6 L335.6,467.7 Z" fill="#a2a6c2" stroke="#c8ccdc" stroke-width="1.2" stroke-opacity="0.4"/>
<path d="M210.4,475.6 L210.4,486.4 L237.7,486.4 L232.0,464.1 L210.4,475.6 Z" fill="#a9adc7" stroke="#c8ccdc" stroke-width="1.2" stroke-opacity="0.4"/>
<path d="M288.4,486.4 L318.8,486.4 L318.2,479.8 L289.9,476.9 L288.4,486.4 Z" fill="#a7abc5" stroke="#c8ccdc" stroke-width="1.2" stroke-opacity="0.4"/>
<path d="M321.3,478.8 L322.0,486.4 L357.5,486.4 L357.5,475.7 L334.0,470.7 L321.3,478.8 Z" fill="#a8acc6" stroke="#c8ccdc" stroke-width="1.2" stroke-opacity="0.4"/>
<path d="M225.9,396.9 L225.9,389.9 L210.4,381.7 L210.4,410.5 L225.9,396.9 Z" fill="#b0b4cc" stroke="#c8ccdc" stroke-width="1.2" stroke-opacity="0.4"/>
<path d="M269.0,373.4 L253.7,390.2 L255.4,398.8 L258.4,400.2 L272.9,395.3 L275.9,384.4 L269.0,373.4 Z" fill="#aaaec8" stroke="#c8ccdc" stroke-width="1.2" stroke-opacity="0.4"/>
<path d="M224.7,435.2 L210.4,430.9 L210.4,471.9 L231.4,460.8 L224.7,435.2 Z" fill="#aaaec8" stroke="#c8ccdc" stroke-width="1.2" stroke-opacity="0.4"/>
<path d="M286.9,475.3 L285.1,470.9 L277.7,466.5 L262.1,478.4 L261.0,486.4 L285.2,486.4 L286.9,475.3 Z" fill="#a5a9c5" stroke="#c8ccdc" stroke-width="1.2" stroke-opacity="0.4"/>
<path d="M357.5,461.2 L357.5,437.5 L345.5,437.9 L343.7,448.0 L357.5,461.2 Z" fill="#a2a6c2" stroke="#c8ccdc" stroke-width="1.2" stroke-opacity="0.4"/>
<path d="M302.0,412.7 L308.3,420.0 L325.3,425.9 L332.5,424.0 L337.2,410.7 L328.5,395.1 L327.4,395.1 L302.0,412.7 Z" fill="#a7abc6" stroke="#c8ccdc" stroke-width="1.2" stroke-opacity="0.4"/>
<path d="M303.6,453.2 L297.9,446.3 L272.7,441.6 L279.0,463.5 L286.2,467.9 L303.6,453.2 Z" fill="#a4a8c3" stroke="#c8ccdc" stroke-width="1.2" stroke-opacity="0.4"/>
<path d="M250.5,390.7 L237.7,383.4 L229.1,389.8 L229.1,396.8 L241.7,406.3 L252.2,399.2 L250.5,390.7 Z" fill="#aaaec8" stroke="#c8ccdc" stroke-width="1.2" stroke-opacity="0.4"/>
<path d="M210.8,404 C216,404 222,408 224.5,416 C226,424 226,432 223,437 C219,440 214,440 210.8,438 Z" fill="#e2e6ee" opacity="0.9" />
<path d="M219,386 C226,383 236,384 246,384 C256,382 266,381 274,383 C277,388 270,393 258,394 C246,395 234,393 224,392 C219,391 217,388 219,386 Z" fill="#dfe2ea" opacity="1" />
<path d="M211,461 C220,460 232,461 242,464.5 C241,469 232,471 222,471 C215,471 211,469 211,461 Z" fill="#e3e6ee" opacity="1" />
<path d="M293,387 C298,382 303,378 308,375" fill="none" stroke="#e2e5ec" stroke-width="5" stroke-linecap="round" stroke-linejoin="round" opacity="0.9"/>
<path d="M331,400 C334,393 337,387 341,382" fill="none" stroke="#e6e9ee" stroke-width="6" stroke-linecap="round" stroke-linejoin="round" opacity="0.9"/>
<path d="M262,434 C272,438 282,442 292,446 C300,449 306,451 311,453" fill="none" stroke="#dfe2e8" stroke-width="6" stroke-linecap="round" stroke-linejoin="round" opacity="0.85"/>
<path d="M240,420 C250,426 256,430 262,434" fill="none" stroke="#d6d9e2" stroke-width="4" stroke-linecap="round" stroke-linejoin="round" opacity="0.7"/>
<circle cx="250.4" cy="376.7" r="6" fill="url(#n2)" opacity="0.92"/>
<circle cx="288.4" cy="375.2" r="6" fill="url(#n2)" opacity="0.92"/>
<circle cx="320.6" cy="376.7" r="6" fill="url(#n2)" opacity="0.92"/>
<circle cx="354" cy="378.2" r="5" fill="url(#n2)" opacity="0.92"/>
<circle cx="225.5" cy="375.2" r="5.5" fill="url(#n2)" opacity="0.92"/>
<circle cx="285.5" cy="395.7" r="5.5" fill="url(#n2)" opacity="0.92"/>
<circle cx="309" cy="394.2" r="5.5" fill="url(#n2)" opacity="0.92"/>
<circle cx="348.4" cy="394.2" r="6" fill="url(#n2)" opacity="0.92"/>
<circle cx="270.9" cy="407.4" r="5.5" fill="url(#n2)" opacity="0.92"/>
<circle cx="253.3" cy="414.7" r="6" fill="url(#n2)" opacity="0.92"/>
<circle cx="228.5" cy="410.3" r="5" fill="url(#n2)" opacity="0.92"/>
<circle cx="279.6" cy="416.2" r="5.5" fill="url(#n2)" opacity="0.92"/>
<circle cx="354" cy="422" r="5" fill="url(#n2)" opacity="0.92"/>
<circle cx="294.3" cy="432.2" r="5.5" fill="url(#n2)" opacity="0.92"/>
<circle cx="310.3" cy="438.1" r="6" fill="url(#n2)" opacity="0.92"/>
<circle cx="329.3" cy="445.4" r="6" fill="url(#n2)" opacity="0.92"/>
<circle cx="246" cy="446.9" r="6.5" fill="url(#n2)" opacity="0.92"/>
<circle cx="262" cy="463" r="6" fill="url(#n2)" opacity="0.92"/>
<circle cx="246" cy="476" r="5.5" fill="url(#n2)" opacity="0.92"/>
<circle cx="301.6" cy="468.8" r="6" fill="url(#n2)" opacity="0.92"/>
<circle cx="326.4" cy="458.6" r="5.5" fill="url(#n2)" opacity="0.92"/>
<circle cx="344" cy="461.5" r="5" fill="url(#n2)" opacity="0.92"/>
<circle cx="228.5" cy="480.5" r="6.5" fill="url(#n2)" opacity="0.92"/>
<circle cx="300" cy="484" r="5" fill="url(#n2)" opacity="0.92"/>
<circle cx="340" cy="480" r="5" fill="url(#n2)" opacity="0.92"/>
<path d="M285,414 C289,411 294,412 298,413 C303,414 308,412 313,413 C318,414 322,412 325,410 C327,405 326,400 328,397 C331,398 333,403 333,408 C336,412 341,415 346,416 C350,416 353,418 352,421 C348,423 343,423 340,425 C339,429 337,433 334,435 C330,434 328,430 325,428 C320,425 314,424 308,424 C302,424 296,423 291,422 C287,420 284,417 285,414 Z" fill="#5b3a24" opacity="0.8" />
<path d="M322,414 C327,411 333,413 337,419 C339,425 337,431 333,433 C328,432 324,428 322,424 C320,420 320,417 322,414 Z" fill="#24160e" opacity="0.92" />
<path d="M292,415 C296,413 302,414 304,417 C303,421 297,422 293,420 Z" fill="#3a2416" opacity="0.9" />
<path d="M306,416 C310,415 314,417 315,420 C313,423 308,423 306,420 Z" fill="#3a2416" opacity="0.8" />
<circle cx="311" cy="419" r="2.5" fill="#2c3e70" opacity="0.8"/>
<circle cx="329" cy="420" r="2.5" fill="#2c3e70" opacity="0.8"/>
<path d="M313,405 C318,403 323,405 324,409 C322,412 316,412 313,410 Z" fill="#d8dae2" opacity="0.7" />
<path d="M327,394 C329,400 330,406 331,414" fill="none" stroke="#4a2e1c" stroke-width="3.5" stroke-linecap="round" stroke-linejoin="round" opacity="0.9"/>
<path d="M336,424 C341,420 346,418 352,416" fill="none" stroke="#4a2e1c" stroke-width="2.5" stroke-linecap="round" stroke-linejoin="round" opacity="0.85"/>
<path d="M318,414 C315,408 312,404 309,402" fill="none" stroke="#6a4a34" stroke-width="1.8" stroke-linecap="round" stroke-linejoin="round" opacity="0.75"/>
<path d="M284,411 C280,409 276,408 270,411" fill="none" stroke="#6a4a34" stroke-width="1.8" stroke-linecap="round" stroke-linejoin="round" opacity="0.7"/>
<path d="M248,402 C254,406 258,410 262,416" fill="none" stroke="#7a5a44" stroke-width="1.5" stroke-linecap="round" stroke-linejoin="round" opacity="0.6"/>
<path d="M244,430 C252,432 258,434 264,436" fill="none" stroke="#7a5a44" stroke-width="1.4" stroke-linecap="round" stroke-linejoin="round" opacity="0.55"/>
<path d="M300,446 C306,450 312,454 318,458" fill="none" stroke="#7a5a44" stroke-width="1.4" stroke-linecap="round" stroke-linejoin="round" opacity="0.55"/>
<path d="M268,426 C270,429 272,431 274,432" fill="none" stroke="#5a3a26" stroke-width="3" stroke-linecap="round" stroke-linejoin="round" opacity="0.7"/>
<path d="M262,434 C260,440 258,446 257,452" fill="none" stroke="#7a5a44" stroke-width="1.3" stroke-linecap="round" stroke-linejoin="round" opacity="0.5"/>
<path d="M340,436 C342,444 341,452 343,460" fill="none" stroke="#7a5a44" stroke-width="1.3" stroke-linecap="round" stroke-linejoin="round" opacity="0.5"/>
<path d="M230,420 C236,424 240,428 244,430" fill="none" stroke="#7a5a44" stroke-width="1.2" stroke-linecap="round" stroke-linejoin="round" opacity="0.5"/>
</g>
<g filter="url(#bl2)">
<ellipse cx="336.7" cy="378.2" rx="3" ry="3" fill="#2c4b94" opacity="1" transform="rotate(0 336.7 378.2)"/>
<ellipse cx="228.5" cy="442.5" rx="3.5" ry="3" fill="#2c4b94" opacity="1" transform="rotate(0 228.5 442.5)"/>
<ellipse cx="233" cy="442.2" rx="3" ry="3" fill="#2c4b94" opacity="1" transform="rotate(0 233 442.2)"/>
<ellipse cx="224" cy="433.7" rx="3" ry="3" fill="#2c4b94" opacity="1" transform="rotate(0 224 433.7)"/>
<ellipse cx="244.5" cy="458.6" rx="3.5" ry="3" fill="#2c4b94" opacity="1" transform="rotate(0 244.5 458.6)"/>
<ellipse cx="279.6" cy="461.5" rx="3" ry="3" fill="#2c4b94" opacity="1" transform="rotate(0 279.6 461.5)"/>
<ellipse cx="238.7" cy="467.4" rx="3.2" ry="3" fill="#2c4b94" opacity="1" transform="rotate(0 238.7 467.4)"/>
<ellipse cx="354" cy="436.6" rx="3" ry="4" fill="#2c4b94" opacity="1" transform="rotate(0 354 436.6)"/>
<ellipse cx="226" cy="386" rx="3" ry="2.2" fill="#2c4b94" opacity="1" transform="rotate(0 226 386)"/>
<ellipse cx="232" cy="388.5" rx="5" ry="1.8" fill="#2c4b94" opacity="1" transform="rotate(0 232 388.5)"/>
<ellipse cx="300" cy="418" rx="2.5" ry="2.5" fill="#2c4b94" opacity="1" transform="rotate(0 300 418)"/>
<ellipse cx="322" cy="426" rx="3" ry="2.5" fill="#2c4b94" opacity="1" transform="rotate(0 322 426)"/>
<ellipse cx="312" cy="420" rx="2.5" ry="2" fill="#2c4b94" opacity="1" transform="rotate(0 312 420)"/>
</g>
<rect x="210.8" y="368" width="146.3" height="118" filter="url(#noise)" opacity="0.35"/>
<rect x="210.8" y="368" width="146.3" height="118" filter="url(#noised)" opacity="0.3"/>
</g>
<g clip-path="url(#c3)">
<rect x="363.2" y="368" width="146.6" height="118" fill="#7f8aa2"/>
<g filter="url(#bl1)">
<path d="M387.0,385.5 L390.6,367.3 L362.5,367.3 L362.5,393.1 L387.0,385.5 Z" fill="#a3b5d2" stroke="#d6e2ee" stroke-width="1.6" stroke-opacity="0.55"/>
<path d="M389.6,385.8 L410.7,392.2 L416.0,374.0 L415.0,367.3 L393.3,367.3 L389.6,385.8 Z" fill="#a8bad6" stroke="#d6e2ee" stroke-width="1.6" stroke-opacity="0.55"/>
<path d="M389.9,388.6 L393.2,405.4 L398.2,405.4 L411.3,398.9 L410.5,394.8 L389.9,388.6 Z" fill="#a5b7d4" stroke="#d6e2ee" stroke-width="1.6" stroke-opacity="0.55"/>
<path d="M432.8,393.9 L417.9,376.7 L412.9,393.8 L414.0,398.8 L423.1,405.2 L433.1,402.5 L432.8,393.9 Z" fill="#a9bbd7" stroke="#d6e2ee" stroke-width="1.6" stroke-opacity="0.55"/>
<path d="M429.0,367.3 L417.6,367.3 L418.6,373.5 L434.1,391.3 L442.4,380.5 L429.0,367.3 Z" fill="#aabcd7" stroke="#d6e2ee" stroke-width="1.6" stroke-opacity="0.55"/>
<path d="M400.6,407.2 L411.3,420.7 L416.2,419.9 L421.3,407.1 L412.7,401.1 L400.6,407.2 Z" fill="#a0b2d0" stroke="#d6e2ee" stroke-width="1.6" stroke-opacity="0.55"/>
<path d="M385.7,416.3 L392.2,429.7 L395.6,431.8 L408.9,421.9 L397.9,408.1 L392.7,408.1 L385.7,416.3 Z" fill="#9fb1cf" stroke="#d6e2ee" stroke-width="1.6" stroke-opacity="0.55"/>
<path d="M381.0,415.7 L362.5,399.7 L362.5,425.6 L381.0,415.7 Z" fill="#aec0da" stroke="#d6e2ee" stroke-width="1.6" stroke-opacity="0.55"/>
<path d="M454.4,380.2 L459.3,395.6 L480.9,400.6 L482.5,395.9 L465.9,367.3 L463.8,367.3 L454.4,380.2 Z" fill="#a3b5d2" stroke="#d6e2ee" stroke-width="1.6" stroke-opacity="0.55"/>
<path d="M510.5,370.6 L510.5,367.3 L468.9,367.3 L484.3,393.7 L510.5,370.6 Z" fill="#a3b5d2" stroke="#d6e2ee" stroke-width="1.6" stroke-opacity="0.55"/>
<path d="M484.4,407.4 L510.5,408.4 L510.5,374.1 L485.1,396.5 L483.1,402.2 L484.4,407.4 Z" fill="#b0c2dc" stroke="#d6e2ee" stroke-width="1.6" stroke-opacity="0.55"/>
<path d="M446.1,416.0 L458.1,422.5 L482.0,408.9 L482.0,408.7 L480.7,403.2 L458.6,398.1 L443.5,408.0 L446.1,416.0 Z" fill="#a7b9d5" stroke="#d6e2ee" stroke-width="1.6" stroke-opacity="0.55"/>
<path d="M441.9,406.0 L456.8,396.2 L452.1,381.3 L444.8,381.6 L435.4,393.8 L435.7,402.7 L441.9,406.0 Z" fill="#aec0da" stroke="#d6e2ee" stroke-width="1.6" stroke-opacity="0.55"/>
<path d="M414.6,447.6 L427.4,437.3 L416.6,422.4 L411.3,423.4 L397.3,433.8 L402.2,445.6 L406.5,448.0 L414.6,447.6 Z" fill="#a7b9d5" stroke="#d6e2ee" stroke-width="1.6" stroke-opacity="0.55"/>
<path d="M399.6,446.0 L394.6,434.2 L391.2,432.1 L374.5,441.9 L387.0,454.1 L399.6,446.0 Z" fill="#aabcd7" stroke="#d6e2ee" stroke-width="1.6" stroke-opacity="0.55"/>
<path d="M381.6,463.1 L385.3,456.0 L371.8,443.0 L362.5,443.4 L362.5,460.3 L381.6,463.1 Z" fill="#a1b3d1" stroke="#d6e2ee" stroke-width="1.6" stroke-opacity="0.55"/>
<path d="M403.0,466.7 L404.8,450.0 L401.3,448.0 L387.8,456.7 L383.8,464.5 L384.0,464.8 L403.0,466.7 Z" fill="#aabcd7" stroke="#d6e2ee" stroke-width="1.6" stroke-opacity="0.55"/>
<path d="M385.6,477.2 L405.6,476.6 L403.2,469.3 L384.6,467.5 L385.6,477.2 Z" fill="#aec0da" stroke="#d6e2ee" stroke-width="1.6" stroke-opacity="0.55"/>
<path d="M429.3,474.5 L414.3,450.2 L407.4,450.6 L405.5,467.9 L408.5,477.1 L418.7,486.7 L425.9,486.7 L429.3,474.5 Z" fill="#a8bad6" stroke="#d6e2ee" stroke-width="1.6" stroke-opacity="0.55"/>
<path d="M381.5,465.7 L362.5,462.9 L362.5,486.7 L378.8,486.7 L383.1,478.3 L381.8,466.4 L381.5,465.7 Z" fill="#acbed9" stroke="#d6e2ee" stroke-width="1.6" stroke-opacity="0.55"/>
<path d="M471.5,467.0 L479.4,454.1 L470.9,444.0 L460.1,443.1 L450.3,451.9 L450.3,455.4 L466.7,470.2 L471.5,467.0 Z" fill="#abbdd8" stroke="#d6e2ee" stroke-width="1.6" stroke-opacity="0.55"/>
<path d="M489.7,452.1 L492.0,429.9 L487.1,425.2 L473.2,442.7 L481.6,452.6 L489.7,452.1 Z" fill="#a0b2d0" stroke="#d6e2ee" stroke-width="1.6" stroke-opacity="0.55"/>
<path d="M502.2,458.5 L510.5,458.2 L510.5,434.7 L494.5,431.0 L492.2,452.6 L502.2,458.5 Z" fill="#acbed9" stroke="#d6e2ee" stroke-width="1.6" stroke-opacity="0.55"/>
<path d="M499.9,460.2 L490.5,454.6 L481.7,455.2 L474.5,467.1 L491.4,472.1 L499.9,460.2 Z" fill="#a9bbd7" stroke="#d6e2ee" stroke-width="1.6" stroke-opacity="0.55"/>
<path d="M490.6,474.6 L472.7,469.3 L467.9,472.6 L467.1,486.7 L490.6,486.7 L490.6,474.6 Z" fill="#a4b6d3" stroke="#d6e2ee" stroke-width="1.6" stroke-opacity="0.55"/>
<path d="M502.5,461.1 L493.2,474.0 L493.2,486.7 L510.5,486.7 L510.5,460.8 L502.5,461.1 Z" fill="#9fb1d0" stroke="#d6e2ee" stroke-width="1.6" stroke-opacity="0.55"/>
<path d="M456.8,424.8 L445.4,418.6 L432.5,437.2 L448.9,449.6 L458.3,441.2 L456.8,424.8 Z" fill="#aec0da" stroke="#d6e2ee" stroke-width="1.6" stroke-opacity="0.55"/>
<path d="M447.7,455.5 L447.7,451.9 L430.3,438.8 L429.7,438.8 L416.8,449.2 L431.0,472.2 L447.7,455.5 Z" fill="#a7b9d5" stroke="#d6e2ee" stroke-width="1.6" stroke-opacity="0.55"/>
<path d="M465.3,472.4 L449.0,457.8 L431.9,475.0 L428.6,486.7 L464.5,486.7 L465.3,472.4 Z" fill="#abbdd8" stroke="#d6e2ee" stroke-width="1.6" stroke-opacity="0.55"/>
<path d="M383.7,414.7 L390.7,406.4 L387.2,388.2 L362.5,395.8 L362.5,396.2 L383.7,414.7 Z" fill="#aec0da" stroke="#d6e2ee" stroke-width="1.6" stroke-opacity="0.55"/>
<path d="M444.6,379.0 L452.3,378.7 L460.6,367.3 L432.7,367.3 L444.6,379.0 Z" fill="#abbdd8" stroke="#d6e2ee" stroke-width="1.6" stroke-opacity="0.55"/>
<path d="M482.3,411.7 L459.4,424.7 L460.8,440.5 L471.0,441.4 L485.6,423.0 L482.3,411.7 Z" fill="#afc1db" stroke="#d6e2ee" stroke-width="1.6" stroke-opacity="0.55"/>
<path d="M423.9,407.7 L418.6,420.8 L429.9,436.2 L430.1,436.2 L443.6,416.6 L440.9,408.4 L434.3,404.8 L423.9,407.7 Z" fill="#a6b8d4" stroke="#d6e2ee" stroke-width="1.6" stroke-opacity="0.55"/>
<path d="M484.6,410.0 L488.2,422.6 L494.0,428.2 L510.5,432.0 L510.5,411.0 L484.6,410.0 Z" fill="#adbfd9" stroke="#d6e2ee" stroke-width="1.6" stroke-opacity="0.55"/>
<path d="M383.4,417.4 L362.5,428.5 L362.5,440.8 L372.0,440.4 L389.5,430.1 L383.4,417.4 Z" fill="#a7b9d5" stroke="#d6e2ee" stroke-width="1.6" stroke-opacity="0.55"/>
<path d="M406.9,479.1 L385.2,479.8 L381.7,486.7 L414.9,486.7 L406.9,479.1 Z" fill="#afc1db" stroke="#d6e2ee" stroke-width="1.6" stroke-opacity="0.55"/>
<path d="M363.2,368 L432,368 C425,372 410,373 398,372.5 C392,373 390,377 390,384 C390,395 391,410 393,420 C394,428 397,433 398,437 C394,439 390,436 388,433 C385,428 383,424 380,418 C376,411 372,402 369,394 C366,390 363.2,388 363.2,386 Z" fill="#e4f1ef" opacity="1" />
<path d="M420,368 L432,368 C431,372 426,375 420,375 Z" fill="#e4eeee" opacity="0.9" />
<path d="M423.6,403.8 C430,408 438,414 446,420 C449,422.5 451,424 452.4,425.5" fill="none" stroke="#e2ecec" stroke-width="5.5" stroke-linecap="round" stroke-linejoin="round" opacity="0.95"/>
<path d="M488.5,389 C491,384 494,378 497.5,373" fill="none" stroke="#dde8ec" stroke-width="4" stroke-linecap="round" stroke-linejoin="round" opacity="0.85"/>
<path d="M433.5,438 C437,436 441,437 442.8,441 C441,444 437,445 435,443 Z" fill="#f3f6f4" opacity="1" />
<path d="M383,426 C388,425 395,427 398.5,432 C395,433 388,432 383,430 Z" fill="#e2eeec" opacity="0.9" />
<circle cx="373.8" cy="380" r="3.5" fill="url(#n3)" opacity="0.92"/>
<circle cx="403.8" cy="386" r="6" fill="url(#n3)" opacity="0.92"/>
<circle cx="400.8" cy="396" r="6" fill="url(#n3)" opacity="0.92"/>
<circle cx="422.3" cy="391.4" r="6" fill="url(#n3)" opacity="0.92"/>
<circle cx="433.8" cy="381.4" r="6" fill="url(#n3)" opacity="0.92"/>
<circle cx="408.5" cy="411.4" r="6" fill="url(#n3)" opacity="0.92"/>
<circle cx="400.8" cy="417.5" r="5.5" fill="url(#n3)" opacity="0.92"/>
<circle cx="367" cy="415" r="5" fill="url(#n3)" opacity="0.92"/>
<circle cx="465" cy="384.5" r="5.5" fill="url(#n3)" opacity="0.92"/>
<circle cx="483.5" cy="373.7" r="6.5" fill="url(#n3)" opacity="0.92"/>
<circle cx="505.8" cy="399" r="5" fill="url(#n3)" opacity="0.92"/>
<circle cx="459" cy="410.6" r="6" fill="url(#n3)" opacity="0.92"/>
<circle cx="445.8" cy="390.6" r="5" fill="url(#n3)" opacity="0.92"/>
<circle cx="412.3" cy="433" r="6" fill="url(#n3)" opacity="0.92"/>
<circle cx="383.8" cy="445" r="6" fill="url(#n3)" opacity="0.92"/>
<circle cx="376" cy="453" r="5" fill="url(#n3)" opacity="0.92"/>
<circle cx="395.4" cy="463" r="6" fill="url(#n3)" opacity="0.92"/>
<circle cx="394.6" cy="471.4" r="5.5" fill="url(#n3)" opacity="0.92"/>
<circle cx="413.8" cy="465" r="5.5" fill="url(#n3)" opacity="0.92"/>
<circle cx="373" cy="473.7" r="6" fill="url(#n3)" opacity="0.92"/>
<circle cx="468" cy="455" r="6" fill="url(#n3)" opacity="0.92"/>
<circle cx="484.3" cy="441.4" r="6" fill="url(#n3)" opacity="0.92"/>
<circle cx="499.7" cy="443" r="6" fill="url(#n3)" opacity="0.92"/>
<circle cx="486" cy="466" r="6" fill="url(#n3)" opacity="0.92"/>
<circle cx="482.8" cy="476.8" r="6" fill="url(#n3)" opacity="0.92"/>
<circle cx="501" cy="476.8" r="6" fill="url(#n3)" opacity="0.92"/>
<circle cx="447.4" cy="432" r="5" fill="url(#n3)" opacity="0.92"/>
<circle cx="430" cy="455" r="5" fill="url(#n3)" opacity="0.92"/>
<circle cx="450" cy="475" r="5" fill="url(#n3)" opacity="0.92"/>
<circle cx="486.7" cy="423.7" r="3.6" fill="#e8eeee" stroke="#4a3a30" stroke-width="1.6"/>
<path d="M409,475 C411,478 413,480 414,482" fill="none" stroke="#3a2a20" stroke-width="3" stroke-linecap="round" stroke-linejoin="round" opacity="0.9"/>
<path d="M464,470 C468,468 472,472 473.5,478 C473,484 466,485 464.3,480 Z" fill="#2e2c3a" opacity="0.9" />
<path d="M504,428 C506,430 508,431 510,432" fill="none" stroke="#5a4030" stroke-width="3" stroke-linecap="round" stroke-linejoin="round" opacity="0.7"/>
<path d="M470,400 C476,398 484,397 490,396" fill="none" stroke="#7a6a5a" stroke-width="1.2" stroke-linecap="round" stroke-linejoin="round" opacity="0.6"/>
</g>
<g filter="url(#bl2)">
<ellipse cx="380" cy="384.5" rx="3.5" ry="3.5" fill="#24477e" opacity="1" transform="rotate(0 380 384.5)"/>
<ellipse cx="424.6" cy="413" rx="3.5" ry="3.5" fill="#24477e" opacity="1" transform="rotate(0 424.6 413)"/>
<ellipse cx="469.7" cy="392" rx="3.2" ry="3" fill="#24477e" opacity="1" transform="rotate(0 469.7 392)"/>
<ellipse cx="476.6" cy="391.4" rx="3" ry="3" fill="#24477e" opacity="1" transform="rotate(0 476.6 391.4)"/>
<ellipse cx="486.6" cy="389.8" rx="3" ry="2.8" fill="#24477e" opacity="1" transform="rotate(0 486.6 389.8)"/>
<ellipse cx="366" cy="464.5" rx="3" ry="2.8" fill="#24477e" opacity="1" transform="rotate(0 366 464.5)"/>
<ellipse cx="373.8" cy="380" rx="2.6" ry="2.6" fill="#24477e" opacity="1" transform="rotate(0 373.8 380)"/>
</g>
<rect x="363.2" y="368" width="146.6" height="118" filter="url(#noise)" opacity="0.4"/>
<rect x="363.2" y="368" width="146.6" height="118" filter="url(#noised)" opacity="0.3"/>
</g>
<text x="23.8" y="520.6" font-size="20.5" text-anchor="start" font-weight="bold" font-style="normal" fill="#000"  >F</text>
<text x="97.5" y="527.5" font-size="12.2" text-anchor="middle" font-weight="normal" font-style="normal" fill="#1a1a1a" stroke="#1a1a1a" stroke-width="0.22" >saline</text>
<text x="157.0" y="513.6" font-size="11.6" text-anchor="middle" font-weight="normal" font-style="normal" fill="#1a1a1a" stroke="#1a1a1a" stroke-width="0.22" textLength="19.4" lengthAdjust="spacingAndGlyphs">LPS</text>
<text x="155.2" y="527.5" font-size="12.2" text-anchor="middle" font-weight="normal" font-style="normal" fill="#1a1a1a" stroke="#1a1a1a" stroke-width="0.22" >+ saline</text>
<text x="214.3" y="513.6" font-size="11.6" text-anchor="middle" font-weight="normal" font-style="normal" fill="#1a1a1a" stroke="#1a1a1a" stroke-width="0.22" textLength="19.8" lengthAdjust="spacingAndGlyphs">LPS</text>
<text x="212.4" y="527.5" font-size="12.2" text-anchor="middle" font-weight="normal" font-style="normal" fill="#1a1a1a" stroke="#1a1a1a" stroke-width="0.22" >+ hirudin</text>
<path d="M72.5,541.6 V534.2 H126.8 V541.6" fill="none" stroke="#333" stroke-width="1.3" />
<path d="M129.4,541.6 V534.2 H184.6 V541.6" fill="none" stroke="#333" stroke-width="1.3" />
<path d="M186.0,541.6 V534.2 H240.4 V541.6" fill="none" stroke="#333" stroke-width="1.3" />
<defs>
<filter id="bb1" x="-50%" y="-50%" width="200%" height="200%"><feGaussianBlur stdDeviation="1.3"/></filter>
<filter id="bb3" x="-50%" y="-50%" width="200%" height="200%"><feGaussianBlur stdDeviation="3.5"/></filter>
<filter id="bb05" x="-50%" y="-50%" width="200%" height="200%"><feGaussianBlur stdDeviation="0.7"/></filter>
<clipPath id="cb1"><rect x="71.3" y="544.6" width="172.3" height="87.7"/></clipPath>
<clipPath id="cb2"><rect x="71.3" y="638.8" width="172.3" height="27.5"/></clipPath>
</defs>
<g clip-path="url(#cb1)">
<rect x="71.3" y="544.6" width="172.3" height="87.7" fill="#fafbfc"/>
<g filter="url(#bb3)">
<ellipse cx="99.2" cy="572" rx="7" ry="10" fill="#c4d1d7" opacity="0.7"/>
<ellipse cx="118.2" cy="570" rx="7" ry="10" fill="#c2cfd6" opacity="0.7"/>
<ellipse cx="137.2" cy="575" rx="7" ry="14" fill="#c4d1d7" opacity="0.6"/>
<ellipse cx="156.3" cy="575" rx="7" ry="14" fill="#c0cdd4" opacity="0.7"/>
<ellipse cx="175.3" cy="580" rx="7" ry="14" fill="#c0cdd4" opacity="0.6"/>
<ellipse cx="196.1" cy="585" rx="7" ry="14" fill="#c8d4d9" opacity="0.7"/>
<ellipse cx="215.1" cy="580" rx="8" ry="16" fill="#c0ced5" opacity="0.8"/>
<ellipse cx="234.1" cy="585" rx="7" ry="18" fill="#c3d0d7" opacity="0.8"/>
<ellipse cx="99.2" cy="605" rx="6" ry="10" fill="#d4dce1" opacity="0.6"/>
<ellipse cx="118.2" cy="605" rx="6" ry="10" fill="#d4dce1" opacity="0.6"/>
<ellipse cx="137.2" cy="610" rx="8" ry="14" fill="#c2ccd4" opacity="0.7"/>
<ellipse cx="156.3" cy="612" rx="8" ry="14" fill="#b8c3cc" opacity="0.8"/>
<ellipse cx="175.3" cy="610" rx="8" ry="14" fill="#c0cad2" opacity="0.7"/>
<ellipse cx="215.1" cy="610" rx="7" ry="10" fill="#d0d8de" opacity="0.6"/>
<ellipse cx="234.1" cy="612" rx="7" ry="12" fill="#d0d8de" opacity="0.6"/>
<ellipse cx="156.3" cy="628" rx="9" ry="5" fill="#9aa8b2" opacity="0.8"/>
<ellipse cx="175.3" cy="628" rx="9" ry="5" fill="#a8b4bc" opacity="0.7"/>
</g>
<g filter="url(#bb1)">
<ellipse cx="80.1" cy="621.5" rx="7.5" ry="2.2" fill="#3a4a52" opacity="0.35"/>
<ellipse cx="99.2" cy="621.5" rx="7.5" ry="2.2" fill="#3a4a52" opacity="0.55"/>
<ellipse cx="118.2" cy="621.5" rx="7.5" ry="2.2" fill="#3a4a52" opacity="0.5"/>
<ellipse cx="137.2" cy="621.5" rx="7.5" ry="2.2" fill="#3a4a52" opacity="0.6"/>
<ellipse cx="156.3" cy="621.5" rx="7.5" ry="2.2" fill="#3a4a52" opacity="0.85"/>
<ellipse cx="175.3" cy="621.5" rx="7.5" ry="2.2" fill="#3a4a52" opacity="0.7"/>
<ellipse cx="196.1" cy="621.5" rx="7.5" ry="2.2" fill="#3a4a52" opacity="0.35"/>
<ellipse cx="215.1" cy="621.5" rx="7.5" ry="2.2" fill="#3a4a52" opacity="0.45"/>
<ellipse cx="234.1" cy="621.5" rx="7.5" ry="2.2" fill="#3a4a52" opacity="0.35"/>
<ellipse cx="137.2" cy="590.5" rx="6.5" ry="1.6" fill="#3a4a52" opacity="0.5"/>
<ellipse cx="156.3" cy="590.5" rx="6.5" ry="1.6" fill="#3a4a52" opacity="0.55"/>
<ellipse cx="175.3" cy="590.5" rx="6.5" ry="1.6" fill="#3a4a52" opacity="0.5"/>
<ellipse cx="156.3" cy="622" rx="6.5" ry="2.2" fill="#101418" opacity="0.7"/>
</g>
<g filter="url(#bb05)">
<path d="M168,570 C166,566 170,563 172,561 C170,556 172,552 176,551.5 C181,551 184,555 183,559 C182,564 177,566 174,567 C172,569 170,571 168,570 Z" fill="#0a0a0a"/>
<ellipse cx="154.2" cy="566.8" rx="3.2" ry="1.2" fill="#101010" transform="rotate(-15 154.2 566.8)"/>
<circle cx="129.7" cy="552.6" r="1.1" fill="#151515"/>
<circle cx="143.5" cy="566.5" r="0.8" fill="#556" opacity="0.6"/>
</g>
</g>
<g clip-path="url(#cb2)">
<rect x="71.3" y="638.8" width="172.3" height="27.5" fill="#fafbfc"/>
<g filter="url(#bb1)">
<ellipse cx="81.8" cy="650.8" rx="7" ry="2.2" fill="#0e1418" opacity="0.85"/>
<ellipse cx="100.9" cy="653" rx="7" ry="2.4" fill="#0e1418" opacity="0.9"/>
<ellipse cx="120.7" cy="653" rx="6" ry="2" fill="#0e1418" opacity="0.45"/>
<ellipse cx="140.7" cy="652.6" rx="7" ry="2.2" fill="#0e1418" opacity="0.85"/>
<ellipse cx="160.6" cy="653.5" rx="8" ry="3.2" fill="#0e1418" opacity="1.0"/>
<ellipse cx="178.7" cy="653" rx="7" ry="2.4" fill="#0e1418" opacity="0.85"/>
<ellipse cx="197.8" cy="653.2" rx="5.5" ry="1.9" fill="#0e1418" opacity="0.4"/>
<ellipse cx="216" cy="653.2" rx="6" ry="2" fill="#0e1418" opacity="0.45"/>
<ellipse cx="233.1" cy="653.2" rx="6" ry="2" fill="#0e1418" opacity="0.42"/>
</g>
</g>
<rect x="71.3" y="544.6" width="172.3" height="87.7" fill="none" stroke="#333" stroke-width="1.3" />
<rect x="71.3" y="638.8" width="172.3" height="27.5" fill="none" stroke="#333" stroke-width="1.3" />
<line x1="243.6" y1="552.0" x2="249.3" y2="552.0" stroke="#333" stroke-width="1.4" />
<text x="251.9" y="555.1" font-size="8.3" text-anchor="start" font-weight="normal" font-style="normal" fill="#444" stroke="#444" stroke-width="0.22" >98 kDa</text>
<line x1="243.6" y1="581.9" x2="249.3" y2="581.9" stroke="#333" stroke-width="1.4" />
<text x="251.9" y="585.0" font-size="8.3" text-anchor="start" font-weight="normal" font-style="normal" fill="#444" stroke="#444" stroke-width="0.22" >64 kDa</text>
<line x1="243.6" y1="612.2" x2="249.3" y2="612.2" stroke="#333" stroke-width="1.4" />
<text x="251.9" y="615.3" font-size="8.3" text-anchor="start" font-weight="normal" font-style="normal" fill="#444" stroke="#444" stroke-width="0.22" >50 kDa</text>
<text x="24.4" y="593.9" font-size="14" text-anchor="start" font-weight="normal" font-style="normal" fill="#1a1a1a" stroke="#1a1a1a" stroke-width="0.22" >fibrin</text>
<line x1="54.8" y1="590.1" x2="62.900000000000006" y2="590.1" stroke="#1a1a1a" stroke-width="1.3" />
<path d="M59.900000000000006,586.9 L67.9,590.1 L59.900000000000006,593.3000000000001 L61.400000000000006,590.1 Z" fill="#1a1a1a"/>
<text x="0.8" y="657.5" font-size="14" text-anchor="start" font-weight="normal" font-style="normal" fill="#1a1a1a" stroke="#1a1a1a" stroke-width="0.22" >cadherin</text>
<line x1="54.8" y1="653.5" x2="62.900000000000006" y2="653.5" stroke="#1a1a1a" stroke-width="1.3" />
<path d="M59.900000000000006,650.3 L67.9,653.5 L59.900000000000006,656.7 L61.400000000000006,653.5 Z" fill="#1a1a1a"/>
<text x="290.8" y="520.2" font-size="20.5" text-anchor="start" font-weight="bold" font-style="normal" fill="#000"  >G</text>
<line x1="336.4" y1="636.8" x2="341.0" y2="636.8" stroke="#333" stroke-width="1.2" />
<text x="332.7" y="641.0" font-size="12.3" text-anchor="end" font-weight="normal" font-style="normal" fill="#1a1a1a" stroke="#1a1a1a" stroke-width="0.22" >0</text>
<line x1="336.4" y1="617.8399999999999" x2="341.0" y2="617.8399999999999" stroke="#333" stroke-width="1.2" />
<text x="332.7" y="622.04" font-size="12.3" text-anchor="end" font-weight="normal" font-style="normal" fill="#1a1a1a" stroke="#1a1a1a" stroke-width="0.22" >20</text>
<line x1="336.4" y1="598.88" x2="341.0" y2="598.88" stroke="#333" stroke-width="1.2" />
<text x="332.7" y="603.08" font-size="12.3" text-anchor="end" font-weight="normal" font-style="normal" fill="#1a1a1a" stroke="#1a1a1a" stroke-width="0.22" >40</text>
<line x1="336.4" y1="579.92" x2="341.0" y2="579.92" stroke="#333" stroke-width="1.2" />
<text x="332.7" y="584.12" font-size="12.3" text-anchor="end" font-weight="normal" font-style="normal" fill="#1a1a1a" stroke="#1a1a1a" stroke-width="0.22" >60</text>
<line x1="336.4" y1="560.96" x2="341.0" y2="560.96" stroke="#333" stroke-width="1.2" />
<text x="332.7" y="565.16" font-size="12.3" text-anchor="end" font-weight="normal" font-style="normal" fill="#1a1a1a" stroke="#1a1a1a" stroke-width="0.22" >80</text>
<line x1="336.4" y1="542.0" x2="341.0" y2="542.0" stroke="#333" stroke-width="1.2" />
<text x="332.7" y="546.2" font-size="12.3" text-anchor="end" font-weight="normal" font-style="normal" fill="#1a1a1a" stroke="#1a1a1a" stroke-width="0.22" >100</text>
<text x="0" y="0" font-size="14.2" text-anchor="middle" fill="#1a1a1a" stroke="#1a1a1a" stroke-width="0.22"  transform="translate(307.7,590.5) rotate(-90)">Survival (%)</text>
<line x1="341.0" y1="636.8" x2="341.0" y2="640.3" stroke="#333" stroke-width="1.1" />
<text x="341.0" y="655.9" font-size="12.3" text-anchor="middle" font-weight="normal" font-style="normal" fill="#1a1a1a" stroke="#1a1a1a" stroke-width="0.22" >0</text>
<line x1="369.6" y1="636.8" x2="369.6" y2="640.3" stroke="#333" stroke-width="1.1" />
<text x="369.6" y="655.9" font-size="12.3" text-anchor="middle" font-weight="normal" font-style="normal" fill="#1a1a1a" stroke="#1a1a1a" stroke-width="0.22" >12</text>
<line x1="398.2" y1="636.8" x2="398.2" y2="640.3" stroke="#333" stroke-width="1.1" />
<text x="398.2" y="655.9" font-size="12.3" text-anchor="middle" font-weight="normal" font-style="normal" fill="#1a1a1a" stroke="#1a1a1a" stroke-width="0.22" >24</text>
<line x1="426.8" y1="636.8" x2="426.8" y2="640.3" stroke="#333" stroke-width="1.1" />
<text x="426.8" y="655.9" font-size="12.3" text-anchor="middle" font-weight="normal" font-style="normal" fill="#1a1a1a" stroke="#1a1a1a" stroke-width="0.22" >36</text>
<line x1="455.4" y1="636.8" x2="455.4" y2="640.3" stroke="#333" stroke-width="1.1" />
<text x="455.4" y="655.9" font-size="12.3" text-anchor="middle" font-weight="normal" font-style="normal" fill="#1a1a1a" stroke="#1a1a1a" stroke-width="0.22" >48</text>
<line x1="484.0" y1="636.8" x2="484.0" y2="640.3" stroke="#333" stroke-width="1.1" />
<text x="484.0" y="655.9" font-size="12.3" text-anchor="middle" font-weight="normal" font-style="normal" fill="#1a1a1a" stroke="#1a1a1a" stroke-width="0.22" >60</text>
<line x1="513.4" y1="636.8" x2="513.4" y2="640.3" stroke="#333" stroke-width="1.1" />
<text x="513.9" y="655.9" font-size="12.3" text-anchor="middle" font-weight="normal" font-style="normal" fill="#1a1a1a" stroke="#1a1a1a" stroke-width="0.22" >72</text>
<text x="430" y="674.2" font-size="14.2" text-anchor="middle" font-weight="normal" font-style="normal" fill="#1a1a1a" stroke="#1a1a1a" stroke-width="0.22" >Time (h)</text>
<rect x="341.0" y="533.1" width="172.39999999999998" height="103.69999999999993" fill="none" stroke="#333" stroke-width="1.6" />
<path d="M341,542.4 H385.9 V550.4 H390.9 V558 H393.6 V566 H395.4 V582 H397.3 V589.6 H398.3 V597.3 H400.2 V605 H402.1 V613.7 H407.9 V620.8 H412.7 V636.8" fill="none" stroke="#1a1a1a" stroke-width="1.6" />
<path d="M386.5,550.4 H387.4 V558 H398.4 V566.5 V581.9 H416.5 V589.6 H431.9 V597.3 H433.8 V605.2 H465.2 V613.4 H479.7 V621.3 H484.4 V636.8" fill="none" stroke="#1a1a1a" stroke-width="1.6" stroke-dasharray="3.2,2.2"/>
<text x="463.5" y="548.0" font-size="10.3" text-anchor="start" font-weight="normal" font-style="normal" fill="#1a1a1a" stroke="#1a1a1a" stroke-width="0.22" textLength="43.0" lengthAdjust="spacing"><tspan font-style="italic">P</tspan> = .002</text>
<text x="471.4" y="608.8" font-size="9.7" text-anchor="start" font-weight="normal" font-style="normal" fill="#4a4a4a" stroke="#4a4a4a" stroke-width="0.22" >ancrod</text>
<text x="417.5" y="629.2" font-size="9.7" text-anchor="start" font-weight="normal" font-style="normal" fill="#4a4a4a" stroke="#4a4a4a" stroke-width="0.22" >saline</text>
</svg>
</body></html>
